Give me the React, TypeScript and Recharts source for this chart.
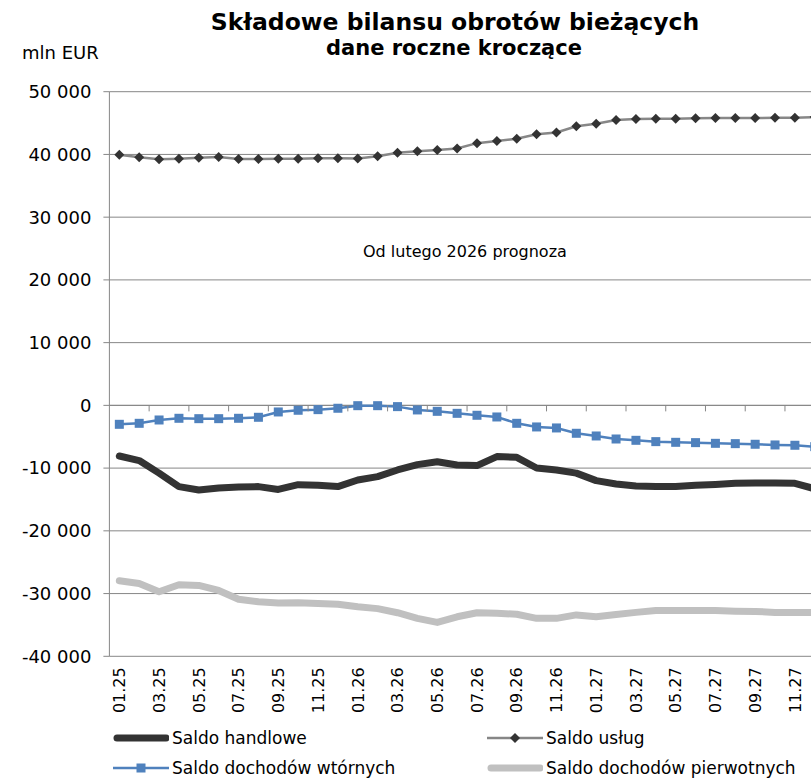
import React from 'react';
import { LineChart, Line, XAxis, YAxis, CartesianGrid, ReferenceLine, Legend, Customized } from 'recharts';

const months = ['01.25','02.25','03.25','04.25','05.25','06.25','07.25','08.25','09.25','10.25','11.25','12.25',
  '01.26','02.26','03.26','04.26','05.26','06.26','07.26','08.26','09.26','10.26','11.26','12.26',
  '01.27','02.27','03.27','04.27','05.27','06.27','07.27','08.27','09.27','10.27','11.27','12.27'];

const saldoHandlowe = [-8070,-8800,-10800,-12950,-13500,-13170,-13000,-12950,-13400,-12640,-12740,-12950,
  -11900,-11360,-10300,-9450,-9000,-9500,-9600,-8170,-8280,-9980,-10300,-10800,
  -12000,-12530,-12850,-12950,-12950,-12740,-12600,-12420,-12370,-12370,-12420,-13300];

const saldoUslug = [39950,39550,39230,39330,39490,39600,39280,39280,39330,39330,39400,39400,
  39350,39700,40280,40500,40700,40950,41800,42150,42500,43200,43500,44500,
  44900,45500,45650,45700,45700,45750,45800,45800,45800,45850,45850,45950];

const saldoWtornych = [-3020,-2860,-2330,-2060,-2120,-2120,-2060,-1900,-1050,-780,-680,-460,
  -50,-50,-200,-730,-950,-1270,-1580,-1850,-2860,-3440,-3600,-4450,
  -4880,-5360,-5570,-5780,-5890,-5940,-6050,-6100,-6200,-6310,-6360,-6580];

const saldoPierwotnych = [-27950,-28400,-29700,-28600,-28700,-29500,-30900,-31300,-31500,-31450,-31600,-31700,
  -32100,-32400,-33050,-33950,-34600,-33700,-33050,-33150,-33300,-33950,-33950,-33400,
  -33700,-33350,-33000,-32700,-32700,-32700,-32700,-32800,-32850,-33000,-33000,-33000];

const yTicks = [-40000,-30000,-20000,-10000,0,10000,20000,30000,40000,50000];

const data = months.map((m, i) => ({
  month: m,
  handlowe: saldoHandlowe[i],
  uslug: saldoUslug[i],
  wtornych: saldoWtornych[i],
  pierwotnych: saldoPierwotnych[i],
}));

const FONT = "'DejaVu Sans', Verdana, sans-serif";
const CHART_W = 830;
const CHART_H = 779;
const M_LEFT = 10;
const Y_W = 99.4;
const M_RIGHT = 5.3;
const M_TOP = 91.7;
const X_H = 60;
const M_BOTTOM = 62.7;
const PLOT_W = CHART_W - M_LEFT - Y_W - M_RIGHT;
const PLOT_H = CHART_H - M_TOP - M_BOTTOM - X_H;
const BAND = PLOT_W / months.length;
const Y_MIN = -40000;
const Y_MAX = 50000;
const ZERO_Y = M_TOP + (Y_MAX / (Y_MAX - Y_MIN)) * PLOT_H;
const AXIS_COLOR = '#878787';

const fmt = (v: number) => {
  const s = String(Math.abs(v)).replace(/\B(?=(\d{3})+(?!\d))/g, ' ');
  return v < 0 ? '-' + s : s;
};

const XTick = (props: any) => {
  const { x, y, payload, index } = props;
  const idx = payload && payload.index != null ? payload.index : index;
  return (
    <g>
      {idx > 0 && (
        <line x1={x - BAND / 2} x2={x - BAND / 2} y1={ZERO_Y} y2={ZERO_Y + 6} stroke={AXIS_COLOR} strokeWidth={1} />
      )}
      <text
        x={x}
        y={y + 3}
        transform={`rotate(-90, ${x}, ${y + 3})`}
        textAnchor="end"
        dy="0.36em"
        fontFamily={FONT}
        fontSize={16}
        fill="#000"
      >
        {payload.value}
      </text>
    </g>
  );
};

const Diamond = (props: any) => {
  const { cx, cy } = props;
  if (cx == null || cy == null) return null;
  const r = 5;
  return <path d={`M${cx},${cy - r}L${cx + r},${cy}L${cx},${cy + r}L${cx - r},${cy}Z`} fill="#333333" />;
};

const Square = (props: any) => {
  const { cx, cy } = props;
  if (cx == null || cy == null) return null;
  const s = 9;
  return <rect x={cx - s / 2} y={cy - s / 2} width={s} height={s} fill="#4f81bd" />;
};

const legendIcons: Record<string, () => React.ReactNode> = {
  handlowe: () => <line x1={4} x2={53} y1={10} y2={10} stroke="#333333" strokeWidth={7} strokeLinecap="round" />,
  uslug: () => (
    <g>
      <line x1={0} x2={56} y1={10} y2={10} stroke="#868686" strokeWidth={2.5} />
      <path d="M28,5L33,10L28,15L23,10Z" fill="#333333" />
    </g>
  ),
  wtornych: () => (
    <g>
      <line x1={0} x2={56} y1={10} y2={10} stroke="#4f81bd" strokeWidth={2.5} />
      <rect x={23.5} y={5.5} width={9} height={9} fill="#4f81bd" />
    </g>
  ),
  pierwotnych: () => <line x1={4} x2={53} y1={10} y2={10} stroke="#c0c0c0" strokeWidth={7} strokeLinecap="round" />,
};

const LegendContent = (props: any) => {
  const { payload } = props;
  return (
    <div style={{ position: 'relative', width: 811, height: 60 }}>
      {(payload || []).map((item: any, i: number) => {
        const col = i % 2;
        const row = Math.floor(i / 2);
        return (
          <div
            key={item.dataKey}
            style={{
              position: 'absolute',
              left: 113 + col * 374,
              top: row * 30,
              height: 20,
              display: 'flex',
              alignItems: 'center',
              whiteSpace: 'nowrap',
            }}
          >
            <svg width={56} height={20} style={{ display: 'block' }}>
              {legendIcons[item.dataKey] ? legendIcons[item.dataKey]() : null}
            </svg>
            <span style={{ fontFamily: FONT, fontSize: 17, color: '#000', marginLeft: 3, lineHeight: '20px' }}>
              {item.value}
            </span>
          </div>
        );
      })}
    </div>
  );
};

const Texts = () => (
  <g>
    <text x={455} y={30} textAnchor="middle" fontFamily={FONT} fontSize={23.5} fontWeight="bold" fill="#000">
      Składowe bilansu obrotów bieżących
    </text>
    <text x={454} y={55} textAnchor="middle" fontFamily={FONT} fontSize={21} fontWeight="bold" fill="#000">
      dane roczne kroczące
    </text>
    <text x={22} y={59} fontFamily={FONT} fontSize={18} fill="#000">
      mln EUR
    </text>
    <text x={363} y={257} fontFamily={FONT} fontSize={16} fill="#000">
      Od lutego 2026 prognoza
    </text>
  </g>
);

const legendOrder = [
  { dataKey: 'handlowe', value: 'Saldo handlowe' },
  { dataKey: 'uslug', value: 'Saldo usług' },
  { dataKey: 'wtornych', value: 'Saldo dochodów wtórnych' },
  { dataKey: 'pierwotnych', value: 'Saldo dochodów pierwotnych' },
];

export default function App() {
  return (
    <div style={{ position: 'absolute', left: 0, top: 0, width: 811, height: 779, overflow: 'hidden', background: '#fff' }}>
      <LineChart
        width={CHART_W}
        height={CHART_H}
        data={data}
        margin={{ top: M_TOP, right: M_RIGHT, bottom: M_BOTTOM, left: M_LEFT }}
      >
        <CartesianGrid vertical={false} stroke={AXIS_COLOR} strokeWidth={1} />
        <XAxis
          dataKey="month"
          interval={1}
          height={X_H}
          axisLine={false}
          tickLine={false}
          padding={{ left: BAND / 2, right: BAND / 2 }}
          tick={<XTick />}
        />
        <YAxis
          width={Y_W}
          domain={[Y_MIN, Y_MAX]}
          ticks={yTicks}
          tickFormatter={fmt}
          axisLine={{ stroke: AXIS_COLOR, strokeWidth: 1 }}
          tickLine={{ stroke: AXIS_COLOR, strokeWidth: 1 }}
          tickSize={6}
          tickMargin={12}
          tick={{ fontFamily: FONT, fontSize: 18, fill: '#000' }}
          allowDataOverflow
        />
        <ReferenceLine y={0} stroke={AXIS_COLOR} strokeWidth={1} />
        <Line
          dataKey="pierwotnych"
          name="Saldo dochodów pierwotnych"
          stroke="#c0c0c0"
          strokeWidth={7}
          dot={false}
          activeDot={false}
          strokeLinejoin="round"
          strokeLinecap="round"
          isAnimationActive={false}
        />
        <Line
          dataKey="handlowe"
          name="Saldo handlowe"
          stroke="#333333"
          strokeWidth={7}
          dot={false}
          activeDot={false}
          strokeLinejoin="round"
          strokeLinecap="round"
          isAnimationActive={false}
        />
        <Line
          dataKey="uslug"
          name="Saldo usług"
          stroke="#878787"
          strokeWidth={2.5}
          dot={<Diamond />}
          activeDot={false}
          isAnimationActive={false}
        />
        <Line
          dataKey="wtornych"
          name="Saldo dochodów wtórnych"
          stroke="#4f81bd"
          strokeWidth={2.5}
          dot={<Square />}
          activeDot={false}
          isAnimationActive={false}
        />
        <Legend
          layout="horizontal"
          verticalAlign="middle"
          align="center"
          wrapperStyle={{ position: 'absolute', left: 0, top: 728, width: 811, height: 60 }}
          content={(p: any) => (
            <LegendContent
              payload={legendOrder.map((d) => {
                const found = (p.payload || []).find((x: any) => x.dataKey === d.dataKey);
                return found ? { ...found, dataKey: d.dataKey } : d;
              })}
            />
          )}
        />
        <Customized component={Texts} />
      </LineChart>
    </div>
  );
}
